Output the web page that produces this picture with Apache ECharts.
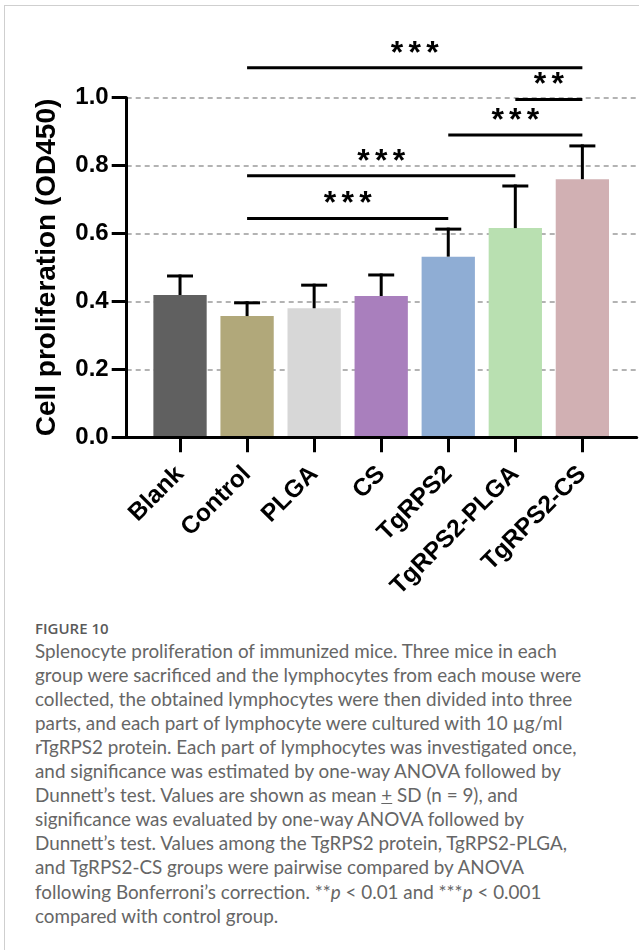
<!DOCTYPE html>
<html>
<head>
<meta charset="utf-8">
<script src="https://cdn.jsdelivr.net/npm/echarts@6/dist/echarts.min.js"></script>
<style>
html,body{margin:0;padding:0;background:#fff;width:639px;height:950px;overflow:hidden;}
#frame{position:absolute;left:4px;top:5px;width:700px;height:1000px;border-left:1px solid #cfcfcf;border-top:1px solid #cfcfcf;}
#chart{position:absolute;left:0;top:0;width:639px;height:610px;}
#figlabel{position:absolute;left:35px;top:618px;font-family:"Open Sans",sans-serif;font-weight:600;font-size:15px;line-height:20px;color:#5a5a5a;white-space:nowrap;}
#caption{position:absolute;left:35px;top:638.6px;font-family:Lato,"Open Sans",sans-serif;font-weight:400;font-size:18.85px;line-height:24.1px;color:#666;white-space:nowrap;}
</style>
</head>
<body>
<div id="frame"></div>
<div id="chart"></div>
<div id="figlabel">FIGURE 10</div>
<div id="caption">Splenocyte proliferation of immunized mice. Three mice in each<br>group were sacrificed and the lymphocytes from each mouse were<br>collected, the obtained lymphocytes were then divided into three<br>parts, and each part of lymphocyte were cultured with 10 µg/ml<br>rTgRPS2 protein. Each part of lymphocytes was investigated once,<br>and significance was estimated by one-way ANOVA followed by<br>Dunnett’s test. Values are shown as mean <u>+</u> SD (n = 9), and<br>significance was evaluated by one-way ANOVA followed by<br>Dunnett’s test. Values among the TgRPS2 protein, TgRPS2-PLGA,<br>and TgRPS2-CS groups were pairwise compared by ANOVA<br>following Bonferroni’s correction. **<i>p</i> &lt; 0.01 and ***<i>p</i> &lt; 0.001<br>compared with control group.</div>
<script>
// ---- data ----
var categories = ['Blank', 'Control', 'PLGA', 'CS', 'TgRPS2', 'TgRPS2-PLGA', 'TgRPS2-CS'];
var means = [0.419, 0.357, 0.380, 0.416, 0.532, 0.616, 0.760];
var sds = [0.056, 0.039, 0.068, 0.062, 0.081, 0.124, 0.098];
var barColors = ['#606060', '#b1a87a', '#d7d7d7', '#a97fbd', '#8fadd4', '#b9e0b1', '#d1b0b3'];
var yTicks = [0, 0.2, 0.4, 0.6, 0.8, 1.0];
// significance brackets: [fromIndex, toIndex, height, label]
var brackets = [
  [1, 6, 1.088, '***'],
  [5, 6, 0.995, '**'],
  [4, 6, 0.890, '***'],
  [1, 5, 0.770, '***'],
  [1, 4, 0.644, '***']
];

var FONT = '"Liberation Sans", Arial, Helvetica, sans-serif';
var y0 = 437.3, pxPerUnit = 339.6;
var chart = echarts.init(document.getElementById('chart'), null, {renderer: 'canvas'});

var errData = categories.map(function (c, i) { return [i, means[i], sds[i]]; });

var option = {
  animation: false,
  backgroundColor: 'transparent',
  grid: [
    {left: 146.5, width: 469.4, top: y0 - 1.2 * pxPerUnit, height: 1.2 * pxPerUnit, containLabel: false},
    {left: 126.7, width: 510, top: y0 - pxPerUnit, height: pxPerUnit, containLabel: false}
  ],
  xAxis: [
    {
      type: 'category', gridIndex: 0, data: categories,
      axisLine: {show: false},
      axisTick: {show: true, alignWithLabel: true, length: 15, lineStyle: {color: '#000', width: 3}},
      axisLabel: {rotate: 45, margin: 33, color: '#000', fontSize: 24.5, fontWeight: 'bold', fontFamily: FONT, interval: 0},
      splitLine: {show: false}
    },
    {
      type: 'value', gridIndex: 1, min: 0, max: 1, z: 5,
      axisLine: {show: true, onZero: false, lineStyle: {color: '#000', width: 3}},
      axisTick: {show: false}, axisLabel: {show: false}, splitLine: {show: false}
    }
  ],
  yAxis: [
    {
      type: 'value', gridIndex: 0, min: 0, max: 1.2, show: false
    },
    {
      type: 'value', gridIndex: 1, min: 0, max: 1, interval: 0.2, z: 1,
      name: 'Cell proliferation (OD450)', nameLocation: 'middle', nameGap: 65, nameRotate: 90,
      nameTextStyle: {color: '#000', fontSize: 28, fontWeight: 'bold', fontFamily: FONT},
      axisLine: {show: true, lineStyle: {color: '#000', width: 3}},
      axisTick: {show: true, length: 15, lineStyle: {color: '#000', width: 3}},
      axisLabel: {margin: 18, color: '#000', fontSize: 24, fontWeight: 'bold', fontFamily: FONT,
        formatter: function (v) { return v.toFixed(1); }},
      splitLine: {show: true, lineStyle: {color: '#9a9a9a', width: 1.5, type: [5, 4]}}
    }
  ],
  series: [
    {
      type: 'bar', xAxisIndex: 0, yAxisIndex: 0, barWidth: 53.3, z: 2,
      data: means.map(function (m, i) { return {value: m, itemStyle: {color: barColors[i]}}; })
    },
    {
      type: 'custom', xAxisIndex: 0, yAxisIndex: 0, z: 3,
      data: errData,
      renderItem: function (params, api) {
        var i = api.value(0), m = api.value(1), s = api.value(2);
        var base = api.coord([i, m]);
        var top = api.coord([i, m + s]);
        var half = 13;
        var st = {stroke: '#000', lineWidth: 3};
        return {
          type: 'group',
          children: [
            {type: 'line', shape: {x1: base[0], y1: base[1], x2: top[0], y2: top[1] - 1.5}, style: st},
            {type: 'line', shape: {x1: top[0] - half, y1: top[1], x2: top[0] + half, y2: top[1]}, style: st}
          ]
        };
      }
    },
    {
      type: 'custom', xAxisIndex: 0, yAxisIndex: 0, z: 4,
      data: brackets,
      renderItem: function (params, api) {
        var b = brackets[params.dataIndex];
        var p1 = api.coord([b[0], b[2]]);
        var p2 = api.coord([b[1], b[2]]);
        var children = [
          {type: 'line', shape: {x1: p1[0], y1: p1[1], x2: p2[0], y2: p2[1]}, style: {stroke: '#000', lineWidth: 3}}
        ];
        var n = b[3].length, gap = 17.7;
        var mid = (p1[0] + p2[0]) / 2;
        for (var k = 0; k < n; k++) {
          var cx = mid + (k - (n - 1) / 2) * gap;
          children.push({
            type: 'text',
            style: {x: cx, y: p1[1] - 14, text: '*', fill: '#000', font: 'bold 32px ' + FONT,
              align: 'center', verticalAlign: 'middle'}
          });
        }
        return {type: 'group', children: children};
      }
    }
  ]
};
chart.setOption(option);
</script>
</body>
</html>
